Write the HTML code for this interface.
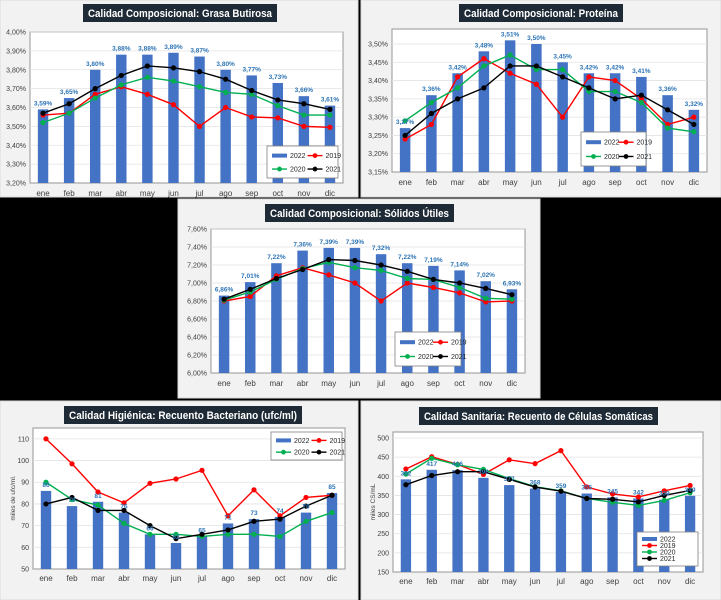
<!DOCTYPE html>
<html><head><meta charset="utf-8"><style>
html,body{margin:0;padding:0;background:#000;}
svg{display:block;font-family:"Liberation Sans",sans-serif;}
</style></head><body>
<svg id="s" width="721" height="600" viewBox="0 0 721 600" xmlns="http://www.w3.org/2000/svg">
<rect x="0" y="0" width="721" height="600" fill="#000"/>
</svg>
<script>
const months = ["ene","feb","mar","abr","may","jun","jul","ago","sep","oct","nov","dic"];
const seriesNames = ["2022","2019","2020","2021"];

const grasa2022 = [3.59,3.65,3.80,3.88,3.88,3.89,3.87,3.80,3.77,3.73,3.66,3.61];
const grasa2019 = [3.56,3.57,3.67,3.71,3.67,3.615,3.50,3.60,3.55,3.545,3.50,3.495];
const grasa2020 = [3.52,3.57,3.65,3.72,3.76,3.74,3.71,3.68,3.67,3.61,3.56,3.56];
const grasa2021 = [3.57,3.62,3.70,3.77,3.82,3.81,3.79,3.75,3.69,3.64,3.62,3.59];
const grasaTicks = [3.2,3.3,3.4,3.5,3.6,3.7,3.8,3.9,4.0];

const prot2022 = [3.27,3.36,3.42,3.48,3.51,3.50,3.45,3.42,3.42,3.41,3.36,3.32];
const prot2019 = [3.24,3.28,3.41,3.46,3.42,3.39,3.30,3.41,3.40,3.35,3.28,3.30];
const prot2020 = [3.29,3.34,3.38,3.44,3.47,3.43,3.43,3.37,3.37,3.34,3.27,3.26];
const prot2021 = [3.25,3.31,3.35,3.38,3.44,3.44,3.41,3.38,3.35,3.36,3.32,3.28];
const protTicks = [3.15,3.20,3.25,3.30,3.35,3.40,3.45,3.50];

const sol2022 = [6.86,7.01,7.22,7.36,7.39,7.39,7.32,7.22,7.19,7.14,7.02,6.93];
const sol2019 = [6.80,6.85,7.08,7.17,7.09,7.00,6.80,7.00,6.95,6.89,6.79,6.80];
const sol2020 = [6.81,6.90,7.04,7.16,7.23,7.17,7.14,7.05,7.04,6.95,6.83,6.82];
const sol2021 = [6.82,6.93,7.05,7.15,7.26,7.25,7.20,7.13,7.04,7.00,6.94,6.87];
const solTicks = [6.0,6.2,6.4,6.6,6.8,7.0,7.2,7.4,7.6];

const bac2022 = [86,79,81,76,66,62,65,71,73,74,76,85];
const bac2019 = [110,98.5,85.5,80.5,89.5,91.5,95.5,74.5,86.5,74.5,83,84];
const bac2020 = [90,82,79.5,71,66,66,65,66,66,65,72,76];
const bac2021 = [80,83,77,77,70,64,66,68,72,73,79,84];
const bacTicks = [50,60,70,80,90,100,110];

const cel2022 = [392,417,416,396,377,368,359,355,345,342,339,349];
const cel2019 = [419,451,431,405,443,433,467,372,354,346,362,376];
const cel2020 = [406,447,430,418,394,373,362,342,332,324,337,357];
const cel2021 = [378,402,412,412,392,372,361,342,340,333,350,363];
const celTicks = [150,200,250,300,350,400,450,500];

const NS = "http://www.w3.org/2000/svg";
const svg = document.getElementById("s");
function mk(tag, attrs, parent, text){
  const e = document.createElementNS(NS, tag);
  for (const k in attrs) e.setAttribute(k, attrs[k]);
  if (text !== undefined) e.textContent = text;
  (parent||svg).appendChild(e);
  return e;
}
const COL = {"2022":"#4472c4","2019":"#ff0000","2020":"#00b050","2021":"#000000"};

function drawChart(cfg){
  const g = mk("g", {});
  
  
  const bg = mk("rect", {x:cfg.panel[0], y:cfg.panel[1], width:cfg.panel[2], height:cfg.panel[3], fill:"#f2f2f2", stroke:"#d9d9d9"}, g);
  
  
  const tb = mk("rect", {x:cfg.title[0], y:cfg.title[1], width:cfg.title[2], height:cfg.title[3], fill:"#1e2a36"}, g);
  
  
  const tt = mk("text", {x:cfg.title[0]+5, y:cfg.title[1]+cfg.title[3]/2+4, "font-size":"11", "font-weight":"bold", fill:"#fff", textLength:cfg.title[2]-10, lengthAdjust:"spacingAndGlyphs"}, g, cfg.titleText);
  
  
  const [L,T,R,B] = cfg.plot;
  const pr = mk("rect", {x:L, y:T, width:R-L, height:B-T, fill:"#fff", stroke:"#a6a6a6", "stroke-width":"1.2"}, g);
  
  
  const y = v => B - (v - cfg.ymin)/(cfg.ymax - cfg.ymin)*(B-T);
  const cw = (R-L)/months.length;
  const x = i => L + cw*(i+0.5);
  cfg.ticks.forEach(t=>{
    const yy = y(t);
    if (t !== cfg.ymin){
      const gl = mk("line", {x1:L, x2:R, y1:yy, y2:yy, stroke:"#e3e3e3", "stroke-width":"0.8"}, g);
      
      
    }
    const tl = mk("text", {x:L-4, y:yy+2.5, "text-anchor":"end", "font-size":"7", fill:"#404040"}, g, cfg.fmt(t));
    
    
  });
  months.forEach((m,i)=>{
    const ml = mk("text", {x:x(i), y:cfg.monthY, "text-anchor":"middle", "font-size":"8", fill:"#404040"}, g, m);
    
    
  });
  if (cfg.ytitle){
    const yt = mk("text", {x:cfg.ytitle[0], y:cfg.ytitle[1], "text-anchor":"middle", "font-size":"6.5", fill:"#404040", transform:`rotate(-90 ${cfg.ytitle[0]} ${cfg.ytitle[1]})`}, g, cfg.ytitleText);
    
    
  }
  const bw = cw*0.4;
  cfg.bars.forEach((v,i)=>{
    const r = mk("rect", {x:x(i)-bw/2, y:y(v), width:bw, height:B-y(v), fill:COL["2022"]}, g);
    
    
  });
  cfg.lines.forEach((arr,k)=>{
    const nm = ["2019","2020","2021"][k];
    const pts = arr.map((v,i)=>x(i)+","+y(v)).join(" ");
    const pl = mk("polyline", {points:pts, fill:"none", stroke:COL[nm], "stroke-width":"1.4"}, g);
    
    
    arr.forEach((v,i)=>{
      const c = mk("circle", {cx:x(i), cy:y(v), r:"2.6", fill:COL[nm]}, g);
      
      
    });
  });
  cfg.bars.forEach((v,i)=>{
    const t = mk("text", {x:x(i), y:y(v)-4, "text-anchor":"middle", "font-size":"6.5", "font-weight":"bold", fill:"#2e75b6"}, g, cfg.lfmt(v));
    
    
  });
  const [lx,ly,lw,lh] = cfg.legend;
  const lg = mk("g", {}, g);
  
  
  mk("rect", {x:lx, y:ly, width:lw, height:lh, fill:"#fff", stroke:"#7f7f7f", "stroke-width":"0.8"}, lg);
  seriesNames.forEach((nm,k)=>{
    let ex, ey;
    if (cfg.legendCol){ ex = lx+5; ey = ly+5+k*(lh-8)/4+2; }
    else { ex = lx+5+(k%2)*lw/2; ey = ly + (k<2 ? lh*0.3 : lh*0.72); }
    const en = mk("g", {}, lg);
    
    
    if (nm==="2022") mk("rect", {x:ex, y:ey-2, width:15, height:4, fill:COL[nm]}, en);
    else { mk("line", {x1:ex, x2:ex+15, y1:ey, y2:ey, stroke:COL[nm], "stroke-width":"1.4"}, en);
           mk("circle", {cx:ex+7.5, cy:ey, r:"2.4", fill:COL[nm]}, en); }
    mk("text", {x:ex+18, y:ey+2.5, "font-size":"7", fill:"#262626"}, en, nm);
  });
}
const pct = t => t.toFixed(2).replace(".",",")+"%";
const intf = t => String(Math.round(t));

drawChart({name:"chart-grasa-butirosa", panel:[0,0,358,197], title:[83,4,194,18], titleText:"Calidad Composicional: Grasa Butirosa",
  plot:[30,32,343,183], ymin:3.2, ymax:4.0, ticks:grasaTicks, fmt:pct, lfmt:pct, monthY:196,
  bars:grasa2022, lines:[grasa2019,grasa2020,grasa2021], legend:[267,146,71,32]});
drawChart({name:"chart-proteina", panel:[361,0,360,197], title:[459,4,164,18], titleText:"Calidad Composicional: Proteína",
  plot:[392,29,707,172], ymin:3.15, ymax:3.541, ticks:protTicks, fmt:pct, lfmt:pct, monthY:185,
  bars:prot2022, lines:[prot2019,prot2020,prot2021], legend:[581,132,65,34]});
drawChart({name:"chart-solidos-utiles", panel:[178,199,362,199], title:[265,204,189,18], titleText:"Calidad Composicional: Sólidos Útiles",
  plot:[211,229,525,373], ymin:6.0, ymax:7.6, ticks:solTicks, fmt:pct, lfmt:pct, monthY:386,
  bars:sol2022, lines:[sol2019,sol2020,sol2021], legend:[395,332,66,34]});
drawChart({name:"chart-recuento-bacteriano", panel:[0,401,358,199], title:[64,406,238,18], titleText:"Calidad Higiénica: Recuento Bacteriano (ufc/ml)",
  plot:[33,428,345,569], ymin:50, ymax:115, ticks:bacTicks, fmt:intf, lfmt:intf, monthY:581,
  ytitle:[15,498], ytitleText:"miles de ufc/ml.",
  bars:bac2022, lines:[bac2019,bac2020,bac2021], legend:[271,432,71,28]});
drawChart({name:"chart-celulas-somaticas", panel:[361,401,360,199], title:[419,407,239,18], titleText:"Calidad Sanitaria: Recuento de Células Somáticas",
  plot:[393,432,703,572], ymin:150, ymax:515.7, ticks:celTicks, fmt:intf, lfmt:intf, monthY:584,
  ytitle:[375,502], ytitleText:"miles CS/mL",
  bars:cel2022, lines:[cel2019,cel2020,cel2021], legend:[637,532,61,34], legendCol:true});
</script>
</body></html>
